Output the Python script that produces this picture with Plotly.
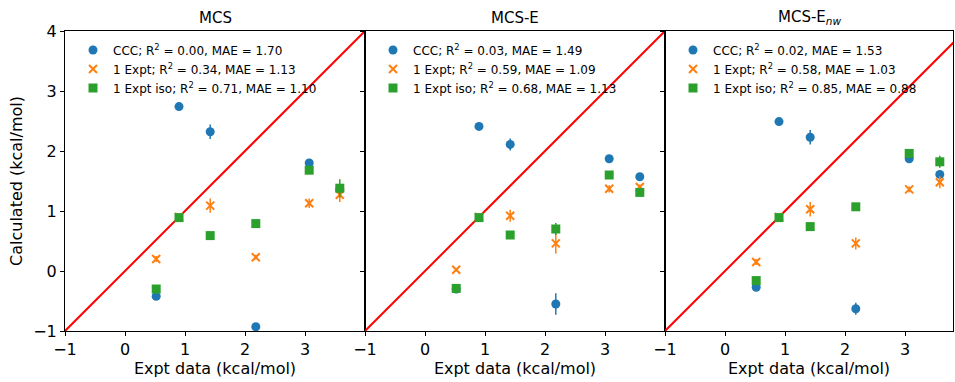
import plotly.graph_objects as go

expt_x = [0.52, 0.90, 1.42, 2.18, 3.07, 3.58]

panels = ["MCS", "MCS-E", "MCS-E<sub><i>nw</i></sub>"]

# Calculated values per panel (CCC, 1 Expt, 1 Expt iso)
ccc_y = [
    [-0.42, 2.74, 2.32, -0.93, 1.80, 1.36],
    [-0.30, 2.41, 2.11, -0.55, 1.87, 1.57],
    [-0.27, 2.49, 2.23, -0.63, 1.87, 1.61],
]
ccc_err = [
    [0.03, 0.03, 0.12, 0.03, 0.05, 0.03],
    [0.03, 0.05, 0.10, 0.18, 0.06, 0.03],
    [0.03, 0.03, 0.12, 0.10, 0.06, 0.03],
]
expt1_y = [
    [0.20, 0.90, 1.09, 0.23, 1.13, 1.27],
    [0.02, 0.90, 0.92, 0.46, 1.37, 1.40],
    [0.15, 0.90, 1.03, 0.46, 1.36, 1.48],
]
expt1_err = [
    [0.05, 0.03, 0.12, 0.04, 0.08, 0.12],
    [0.03, 0.03, 0.10, 0.17, 0.06, 0.04],
    [0.05, 0.03, 0.12, 0.10, 0.05, 0.10],
]
iso_y = [
    [-0.30, 0.89, 0.59, 0.79, 1.68, 1.38],
    [-0.29, 0.89, 0.60, 0.70, 1.60, 1.31],
    [-0.16, 0.89, 0.74, 1.07, 1.96, 1.82],
]
iso_err = [
    [0.04, 0.03, 0.03, 0.06, 0.06, 0.15],
    [0.03, 0.04, 0.05, 0.10, 0.05, 0.03],
    [0.03, 0.03, 0.06, 0.06, 0.06, 0.10],
]
r2 = [["0.00", "0.34", "0.71"], ["0.03", "0.59", "0.68"], ["0.02", "0.58", "0.85"]]
mae = [["1.70", "1.13", "1.10"], ["1.49", "1.09", "1.13"], ["1.53", "1.03", "0.88"]]

x_ranges = [[-1, 4], [-1, 4], [-1, 3.8]]
y_range = [-1, 4]
tick_vals = [-1, 0, 1, 2, 3, 4]

BLUE = "#1f77b4"
ORANGE = "#ff7f0e"
GREEN = "#2ca02c"

W, H = 955, 382
ml, mr, mt, mb = 65, 2, 31, 51
pw = W - ml - mr
widths = [300, 300, 288]
domains = []
acc = 0
for w in widths:
    domains.append([acc / pw, (acc + w) / pw])
    acc += w

fig = go.Figure()
FONT = "DejaVu Sans"

for i in range(3):
    xa = "x" if i == 0 else f"x{i+1}"
    ya = "y" if i == 0 else f"y{i+1}"
    lg = "legend" if i == 0 else f"legend{i+1}"
    # identity line
    fig.add_trace(go.Scatter(x=[-1, 4], y=[-1, 4], mode="lines",
                             line=dict(color="red", width=2), showlegend=False,
                             xaxis=xa, yaxis=ya, hoverinfo="skip"))
    series = [
        ("CCC", ccc_y[i], ccc_err[i], BLUE, "circle", 9),
        ("1 Expt", expt1_y[i], expt1_err[i], ORANGE, "x-thin-open", 8),
        ("1 Expt iso", iso_y[i], iso_err[i], GREEN, "square", 9),
    ]
    for k, (name, ys, es, col, sym, sz) in enumerate(series):
        fig.add_trace(go.Scatter(
            x=expt_x, y=ys, mode="markers",
            marker=dict(color=col, symbol=sym, size=sz,
                        line=dict(color=col, width=2 if sym.startswith("x") else 0)),
            error_y=dict(type="data", array=es, color=col, thickness=1.5, width=0),
            name=f"{name}; R<sup>2</sup> = {r2[i][k]}, MAE = {mae[i][k]}",
            xaxis=xa, yaxis=ya, legend=lg,
        ))
    axis_common = dict(showline=True, linecolor="black", linewidth=1,
                       mirror=True, ticks="outside", ticklen=4, tickcolor="black",
                       showgrid=False, zeroline=False,
                       tickfont=dict(family=FONT, size=16, color="black"))
    fig.update_layout({
        ("xaxis" if i == 0 else f"xaxis{i+1}"): dict(
            axis_common, range=x_ranges[i], domain=domains[i], anchor=ya,
            tickvals=tick_vals[:-1], title=dict(text="Expt data (kcal/mol)",
                                                 font=dict(family=FONT, size=16, color="black"),
                                                 standoff=4)),
        ("yaxis" if i == 0 else f"yaxis{i+1}"): dict(
            axis_common, range=y_range, domain=[0, 1], anchor=xa,
            tickvals=tick_vals, showticklabels=(i == 0),
            title=dict(text="Calculated (kcal/mol)" if i == 0 else "",
                       font=dict(family=FONT, size=16, color="black"), standoff=6)),
        lg: dict(x=domains[i][0] + 8 / pw, y=0.985, xanchor="left", yanchor="top",
                 bgcolor="rgba(0,0,0,0)", font=dict(family=FONT, size=12, color="black"),
                 tracegroupgap=0, itemwidth=30),
    })
    fig.add_annotation(text=panels[i], x=(domains[i][0] + domains[i][1]) / 2, y=1.0,
                       xref="paper", yref="paper", xanchor="center", yanchor="bottom",
                       yshift=2, showarrow=False,
                       font=dict(family=FONT, size=15, color="black"))

fig.update_layout(width=W, height=H, margin=dict(l=ml, r=mr, t=mt, b=mb),
                  plot_bgcolor="white", paper_bgcolor="white",
                  font=dict(family=FONT, color="black"))

fig.write_html("out.html")
